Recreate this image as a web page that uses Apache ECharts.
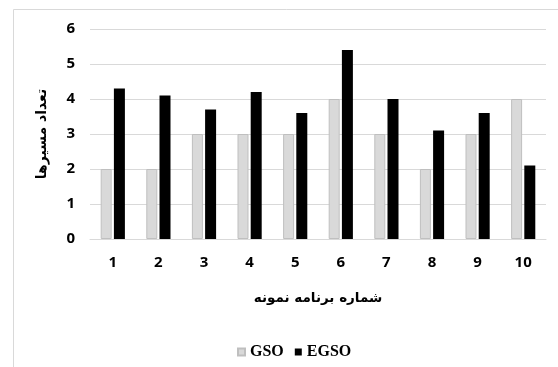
<!DOCTYPE html>
<html>
<head>
<meta charset="utf-8">
<script src="https://cdn.jsdelivr.net/npm/echarts@6/dist/echarts.min.js"></script>
<style>
  html, body { margin: 0; padding: 0; background: #ffffff; }
  #chart { width: 558px; height: 367px; }
</style>
</head>
<body>
<div id="chart"></div>
<script>
// Sample program numbers and route counts per algorithm
const categories = ['1', '2', '3', '4', '5', '6', '7', '8', '9', '10'];
const gsoValues = [2, 2, 3, 3, 3, 4, 3, 2, 3, 4];
const egsoValues = [4.3, 4.1, 3.7, 4.2, 3.6, 5.4, 4.0, 3.1, 3.6, 2.1];
const yTicks = [0, 1, 2, 3, 4, 5, 6];

const axisFont = { fontFamily: 'Open Sans', fontWeight: 'bold', fontSize: 15, color: '#000' };

const chart = echarts.init(document.getElementById('chart'), null, { renderer: 'canvas' });
chart.setOption({
  backgroundColor: '#ffffff',
  animation: false,
  graphic: [{
    type: 'rect',
    shape: { x: 13.5, y: 9.5, width: 700, height: 500 },
    style: { fill: 'none', stroke: '#d9d9d9', lineWidth: 1 },
    silent: true
  }],
  grid: { left: 90, right: 12, top: 29, bottom: 128 },
  legend: {
    data: ['GSO', 'EGSO'],
    left: 232,
    top: 339,
    itemWidth: 7,
    itemHeight: 7,
    itemGap: 11,
    icon: 'rect',
    textStyle: { fontFamily: 'Liberation Serif', fontWeight: 'bold', fontSize: 16, color: '#000' }
  },
  xAxis: {
    type: 'category',
    data: categories,
    name: 'شماره برنامه نمونه',
    nameLocation: 'middle',
    nameGap: 52,
    nameTextStyle: { fontFamily: 'DejaVu Sans', fontWeight: 'bold', fontSize: 13.5, color: '#000' },
    axisLine: { lineStyle: { color: '#d9d9d9' } },
    axisTick: { show: false },
    axisLabel: Object.assign({ margin: 16 }, axisFont)
  },
  yAxis: {
    type: 'value',
    min: yTicks[0],
    max: yTicks[yTicks.length - 1],
    interval: 1,
    name: 'تعداد مسیرها',
    nameLocation: 'middle',
    nameRotate: 90,
    nameGap: 41,
    nameTextStyle: { fontFamily: 'DejaVu Sans', fontWeight: 'bold', fontSize: 14, color: '#000' },
    axisLine: { show: false },
    axisTick: { show: false },
    axisLabel: Object.assign({ margin: 15 }, axisFont),
    splitLine: { lineStyle: { color: '#d9d9d9' } }
  },
  series: [
    {
      name: 'GSO',
      type: 'bar',
      data: gsoValues,
      barWidth: 11,
      barGap: '20%',
      itemStyle: { color: '#d9d9d9', borderColor: '#bfbfbf', borderWidth: 1 }
    },
    {
      name: 'EGSO',
      type: 'bar',
      data: egsoValues,
      barWidth: 11,
      barGap: '20%',
      itemStyle: { color: '#000000' }
    }
  ]
});
</script>
</body>
</html>
